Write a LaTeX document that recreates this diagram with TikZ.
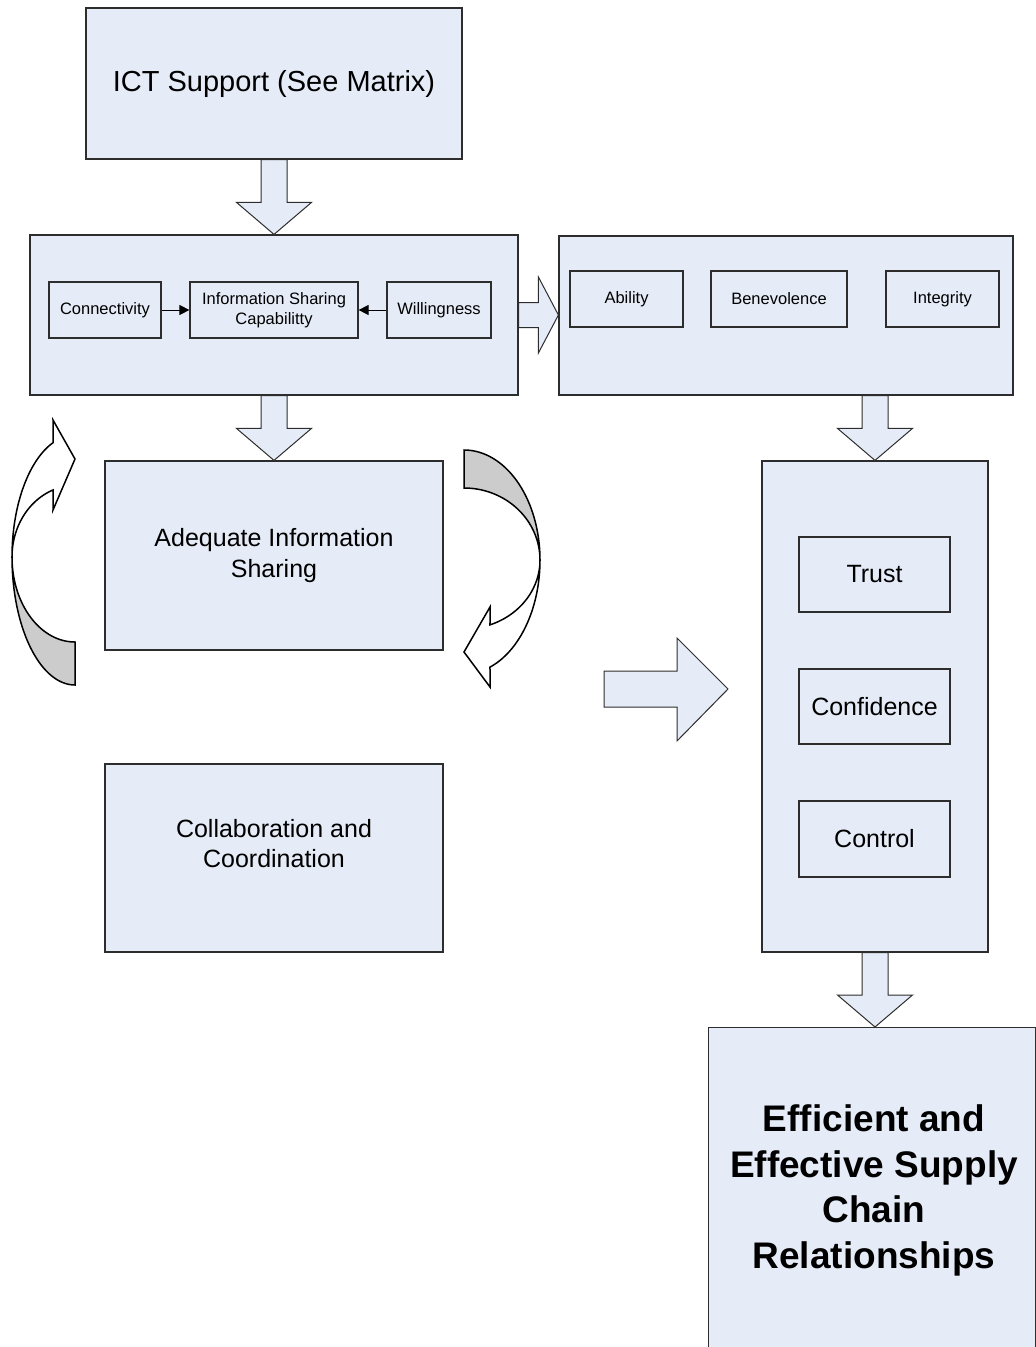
\documentclass[tikz,border=0pt]{standalone}
\usepackage{fontspec}
\setmainfont{Liberation Sans}
\usetikzlibrary{calc,arrows.meta}
\definecolor{boxfill}{RGB}{230,236,247}
\definecolor{boxline}{RGB}{45,45,45}
\definecolor{twistgray}{RGB}{204,204,204}

% wide block arrow pointing down, from a start point to a tip
\newcommand{\blockdown}[2]{%
  \draw[blockarrow] let \p1=(#1), \p2=(#2) in
    (\x1-13pt,\y1) -- (\x1-13pt,\y2+32pt) -- (\x1-37.5pt,\y2+32pt) -- (\x2,\y2)
    -- (\x1+37.5pt,\y2+32pt) -- (\x1+13pt,\y2+32pt) -- (\x1+13pt,\y1) -- cycle;}

\begin{document}
\begin{tikzpicture}[x=1pt,y=-1pt,
  box/.style={draw=boxline, fill=boxfill, line width=1.2pt, inner sep=0pt, align=center},
  bigtext/.style={font=\fontsize{29}{34}\selectfont},
  midtext/.style={font=\fontsize{25}{30.5}\selectfont},
  smalltext/.style={font=\fontsize{16.5}{20}\selectfont},
  boldtext/.style={font=\fontsize{37}{45.7}\selectfont\bfseries},
  blockarrow/.style={draw=boxline, fill=boxfill, line width=1pt, line join=miter},
  ribbon/.style={draw=black, line width=1.5pt, line join=miter},
  link/.style={draw=black, line width=1pt, -{Triangle[length=10pt,width=10pt]}}]

\useasboundingbox (0,0) rectangle (1036,1347);
\clip (0,0) rectangle (1036,1347);

% left column
\node[box, bigtext, minimum width=376pt, minimum height=151pt] (ict) at (274,83.5) {ICT Support (See Matrix)};
\node[box, minimum width=488pt, minimum height=160pt] (share) at (274,315) {};
\node[box, smalltext, minimum width=112pt, minimum height=56pt] (conn) at (105,310) {Connectivity};
\node[box, smalltext, minimum width=168pt, minimum height=56pt] (cap) at (274,310) {Information Sharing\\Capabilitty};
\node[box, smalltext, minimum width=104pt, minimum height=56pt] (will) at (439,310) {Willingness};
\node[box, midtext, minimum width=338pt, minimum height=189pt] (adeq) at (274,555.5) {Adequate Information\\Sharing};
\node[box, minimum width=338pt, minimum height=188pt] (collab) at (274,858) {};
\node[midtext, align=center] (collabtext) at (274,843.5) {Collaboration and\\Coordination};

% right column
\node[box, minimum width=454pt, minimum height=159pt] (trustbase) at (786,315.5) {};
\node[box, smalltext, minimum width=113pt, minimum height=56pt] (abil) at (626.5,299) {Ability};
\node[box, smalltext, minimum width=136pt, minimum height=56pt] (bene) at (779,299) {Benevolence};
\node[box, smalltext, minimum width=113pt, minimum height=56pt] (integ) at (942.5,299) {Integrity};
\node[box, minimum width=226pt, minimum height=491pt] (facets) at (875,706.5) {};
\node[box, midtext, minimum width=151pt, minimum height=75pt] (trust) at (874.5,574.5) {Trust};
\node[box, midtext, minimum width=151pt, minimum height=75pt] (conf) at (874.5,706.5) {Confidence};
\node[box, midtext, minimum width=151pt, minimum height=76pt] (ctrl) at (874.5,839) {Control};
\node[box, minimum width=327pt, minimum height=340pt, anchor=north west] (eff) at (708,1027) {};
\node[boldtext, align=center] (efftext) at (874,1190.5) {Efficient and\\Effective Supply\\Chain\\Relationships};

% small connectors
\draw[link] (conn) -- (cap);
\draw[link] (will) -- (cap);

% block arrows
\blockdown{ict.south}{share.north}
\blockdown{share.south}{adeq.north}
\blockdown{facets.north |- trustbase.south}{facets.north}
\blockdown{facets.south}{facets.south |- eff.north}

\draw[blockarrow] let \p1=(share.east), \p2=(trustbase.west) in
  (\x1,\y1+12.5pt) -- (\x2-20pt,\y1+12.5pt) -- (\x2-20pt,\y1+38pt) -- (\x2,\y1)
  -- (\x2-20pt,\y1-38pt) -- (\x2-20pt,\y1-12.5pt) -- (\x1,\y1-12.5pt) -- cycle;

\coordinate (push) at (604,689);
\draw[blockarrow] (push) ++(0,-18) -- ++(73,0) -- ++(0,-33) -- ++(51,51)
  -- ++(-51,52) -- ++(0,-34) -- ++(-73,0) -- cycle;

% twisted ribbon arrow on the left
\filldraw[ribbon, fill=twistgray]
  plot[domain=180:90, samples=50] ({75+63*cos(\x)},{557+128*sin(\x)})
  -- plot[domain=90:180, samples=50] ({75+63*cos(\x)},{557+85*sin(\x)}) -- cycle;
\filldraw[ribbon, fill=white]
  plot[domain=180:249.6, samples=50] ({75+63*cos(\x)},{557+122*sin(\x)})
  -- (53,420) -- (75,459) -- (53,510)
  -- plot[domain=249.6:180, samples=50] ({75+63*cos(\x)},{557+71.5*sin(\x)}) -- cycle;

% twisted ribbon arrow on the right
\filldraw[ribbon, fill=twistgray]
  plot[domain=270:360, samples=50] ({464+76*cos(\x)},{560+110*sin(\x)})
  -- plot[domain=360:270, samples=50] ({464+76*cos(\x)},{560+72*sin(\x)}) -- cycle;
\filldraw[ribbon, fill=white]
  plot[domain=0:70, samples=50] ({464+76*cos(\x)},{560+114*sin(\x)})
  -- (490,687) -- (464,652) -- (490,607)
  -- plot[domain=70:0, samples=50] ({464+76*cos(\x)},{560+69*sin(\x)}) -- cycle;

\end{tikzpicture}
\end{document}
